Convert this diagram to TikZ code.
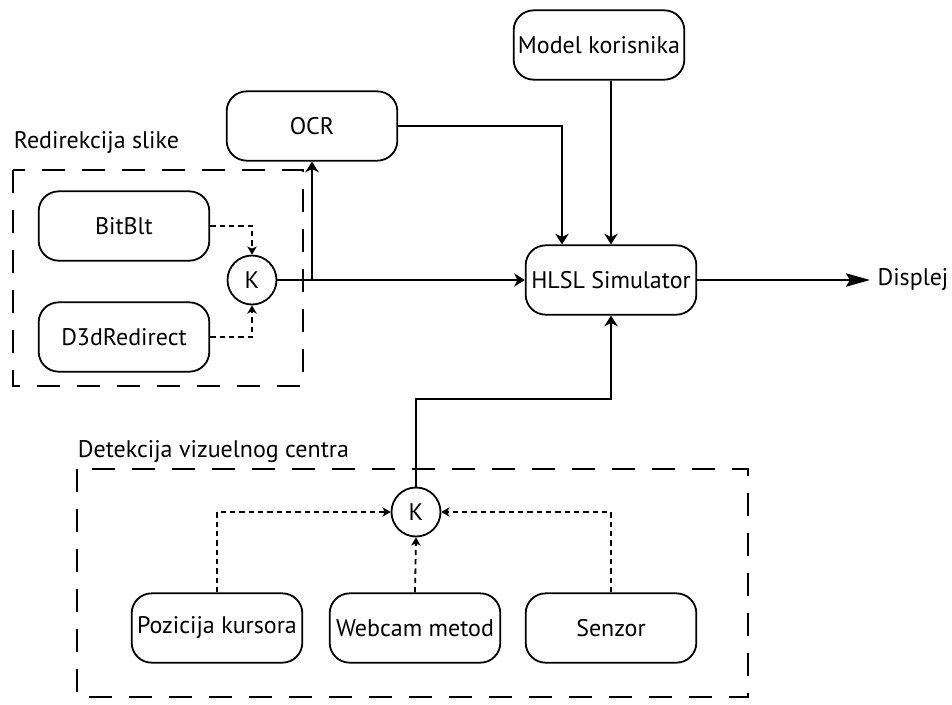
\documentclass[tikz,border=0pt]{standalone}
\usepackage{fontspec}
\setmainfont{PT Sans}
\usetikzlibrary{arrows.meta,calc}

\begin{document}
\begin{tikzpicture}[x=0.75pt,y=-0.75pt,>={Stealth[length=8pt,width=10pt,inset=2.5pt]},line width=1.35pt,node distance=83.25pt,
  block/.style={draw,rounded corners=15pt,minimum width=128pt,minimum height=52pt,inner sep=1pt,font=\fontsize{18}{21}\selectfont},
  krug/.style={circle,draw,minimum size=36.75pt,inner sep=0pt,font=\fontsize{18}{21}\selectfont},
  grupa/.style={draw,line width=1.4pt,dash pattern=on 17pt off 13pt},
  crtkano/.style={->,dash pattern=on 4pt off 3pt,>={Stealth[length=6pt,width=7pt,inset=1.5pt]}},
  oznaka/.style={font=\fontsize{18}{21}\selectfont,inner sep=0pt}]

            \useasboundingbox (0,0) rectangle (952,704);

            % grupe
            \draw[grupa] (13,170) rectangle (303,386);
            \draw[grupa] (77,469) rectangle (748,697);
            \node[oznaka, anchor=base west] (redir) at (13,148) {Redirekcija slike};
            \node[oznaka, anchor=base west] (detek) at (77,457) {Detekcija vizuelnog centra};

            \node[block] (model) at (599,45) {Model korisnika};
            \node[block] (ocr) at (312,126) {OCR};
            \node[block] (bitblt) at (124,226) {BitBlt};
            \node[block] (d3d) [below of = bitblt] {D3dRedirect};
            \node[krug] (k1) at (252,280) {K};
            \node[block] (hlsl) at (611,280) {HLSL Simulator};
            \node[oznaka, anchor=west, inner sep=5pt] (displej) at (870,280) {Displej};
            \node[krug] (k2) at (416,512) {K};
            \node[block] (poz) at (217,628) {Pozicija kursora};
            \node[block] (web) [right of = poz, node distance=148.5pt] {Webcam metod};
            \node[block] (senz) [right of = web, node distance=147pt] {Senzor};

            \coordinate (split) at (ocr.south |- k1.east);
            \coordinate (turn) at (514,399);

            \draw[crtkano] (bitblt.east) -| (k1.north);
            \draw[crtkano] (d3d.east) -| (k1.south);
            \draw[->] (k1.east) to (hlsl.west);
            \draw[->] (split) to (ocr.south);
            \draw[->] (ocr.east) -| ($(hlsl.north)+(-49,0)$);
            \draw[->] (model.south -| hlsl.north) to (hlsl.north);
            \draw[-{Stealth[length=18pt,width=10pt,inset=3pt]}] (hlsl.east) to (displej.west);
            \draw[->] (k2.north) |- (turn) -| (hlsl.south);
            \draw[crtkano] (poz.north) |- (k2.west);
            \draw[crtkano] (web.north) to (k2.south);
            \draw[crtkano] (senz.north) |- (k2.east);

            ;
        \end{tikzpicture}
\end{document}
